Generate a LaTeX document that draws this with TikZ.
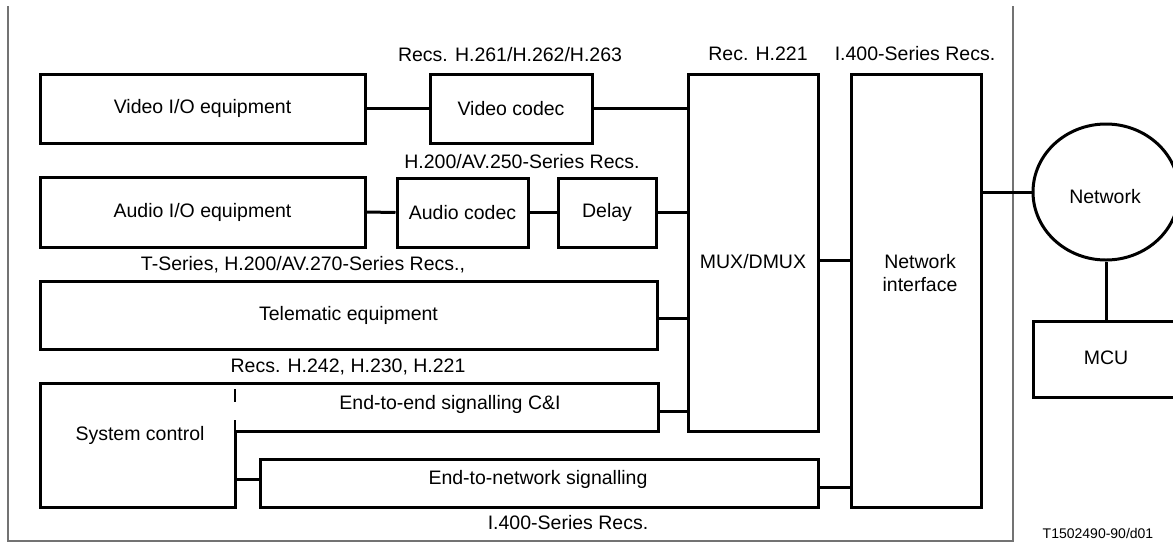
\documentclass[tikz,border=0pt]{standalone}
\usepackage{fontspec}
\setmainfont{Liberation Sans}
\usetikzlibrary{shapes.geometric}
\begin{document}
\begin{tikzpicture}[x=1pt,y=-1pt,
  every node/.style={font=\fontsize{19.5}{23}\selectfont, inner sep=0pt},
  box/.style={draw, line width=3pt, align=center},
  wire/.style={line width=3pt},
  frame/.style={draw=black!55, line width=1.4pt},
  small/.style={font=\fontsize{14}{16}\selectfont}]
\useasboundingbox (0,0) rectangle (1173,547);
% outer frame
\draw[frame] (8,6) -- (8,541) -- (1013,541) -- (1013,6);

% boxes
\node[box, minimum width=325, minimum height=69] (vio) at (202.5,108.5) {Video I/O equipment};
\node[box, minimum width=162, minimum height=69] (vcodec) at (511,108.5) {Video codec};
\node[box, minimum width=325, minimum height=70] (aio) at (202.5,212) {Audio I/O equipment};
\node[box, minimum width=131, minimum height=69] (acodec) at (462.5,212.5) {Audio codec};
\node[box, minimum width=98, minimum height=69] (delay) at (607,212.5) {Delay};
\node[box, minimum width=617, minimum height=68] (tele) at (348.5,315) {Telematic equipment};
\node[box, minimum width=130, minimum height=357] (mux) at (753,252.5) {};
\node (muxt) at (753,262) {MUX/DMUX};
\node[box, minimum width=130, minimum height=433] (ni) at (916,290.5) {};
\node[align=center] (nit) at (920,273) {Network\\interface};
\node[box, minimum width=558, minimum height=48] (e2n) at (539,483) {};
\node (e2nt) at (538,479) {End-to-network signalling};

% system control + end-to-end signalling outline
\draw[wire, line join=miter] (235,507) -- (235,431) -- (658,431) -- (658,383) -- (40,383) -- (40,507) -- cycle;
\draw[line width=1.2pt, dash pattern=on 13pt off 18pt] (235,389) -- (235,431);
\node (sysc) at (140,435) {System control};
\node (e2e) at (450,404) {End-to-end signalling C\&I};
\coordinate (e2eR) at (658,411);
\coordinate (scR) at (235,479);

% right side: network and MCU (clipped by the page edge)
\begin{scope}
\clip (0,0) rectangle (1173,547);
\node[draw, line width=3pt, ellipse, minimum width=146, minimum height=136] (net) at (1106,192) {};
\node[draw, line width=3pt, minimum width=167, minimum height=76] (mcu) at (1116.5,359) {};
\end{scope}
\node (nett) at (1105,197) {Network};
\node (mcut) at (1106,358) {MCU};

% connectors
\draw[wire] (vio.east) -- (vcodec.west);
\draw[wire] (vcodec.east) -- (vcodec.east -| mux.west);
\draw[wire] (aio.east) -- (acodec.west);
\draw[wire] (acodec.east) -- (delay.west);
\draw[wire] (delay.east) -- (delay.east -| mux.west);
\draw[wire] ([yshift=-3pt]tele.east) -- ([yshift=-3pt]tele.east -| mux.west);
\draw[wire] (e2eR) -- (e2eR -| mux.west);
\draw[wire] ([yshift=-7.5pt]mux.east) -- ([yshift=-7.5pt]mux.east -| ni.west);
\draw[wire] ([yshift=-4pt]e2n.east) -- ([yshift=-4pt]e2n.east -| ni.west);
\draw[wire] (scR) -- (scR -| e2n.west);
\draw[wire] (net.west -| ni.east) -- (net.west);
\draw[wire] (net.south) -- (net.south |- mcu.north);

% labels
\node at (510,55) {Recs. H.261/H.262/H.263};
\node at (758,54) {Rec. H.221};
\node at (915,54) {I.400-Series Recs.};
\node at (522,162) {H.200/AV.250-Series Recs.};
\node at (303,265) {T-Series, H.200/AV.270-Series Recs.,};
\node at (348,367) {Recs. H.242, H.230, H.221};
\node at (568,523) {I.400-Series Recs.};
\node[small] at (1098,533) {T1502490-90/d01};
\end{tikzpicture}
\end{document}
